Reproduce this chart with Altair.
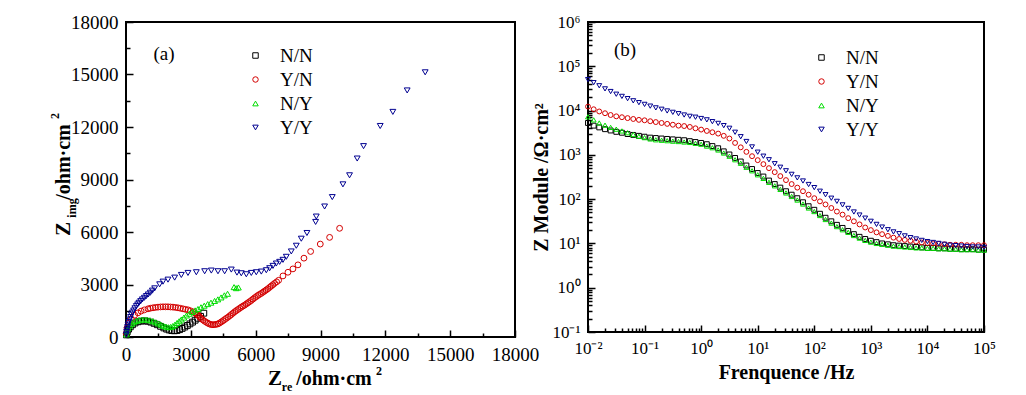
import altair as alt
import pandas as pd

FONT = "Liberation Serif"
SERIES = ["N/N", "Y/N", "N/Y", "Y/Y"]
COLORS = ["#000000", "#D40000", "#00DD00", "#000090"]
SHAPES = ["square", "circle", "triangle-up", "triangle-down"]

# ---------------- (a) Nyquist data: Z_re, Z_img (ohm*cm2) ----------------
nn_zre = [20, 60, 120, 200, 300, 420, 560, 700, 850, 1000, 1150, 1300, 1450, 1600, 1750, 1880,
          2000, 2120, 2240, 2360, 2480, 2600, 2720, 2840, 2960, 3080, 3200, 3320, 3450, 3600]
nn_zimg = [120, 300, 450, 580, 700, 800, 870, 910, 920, 900, 850, 780, 700, 610, 520, 450,
           400, 365, 355, 370, 420, 490, 570, 660, 750, 850, 960, 1070, 1180, 1360]

yn_zre = [10, 46, 139, 247, 401, 555, 700, 850, 1018, 1130, 1249, 1360, 1480, 1600, 1712, 1830,
          1943, 2060, 2174, 2290, 2406, 2520, 2637, 2750, 2868, 2980, 3099, 3180, 3254, 3320,
          3377, 3430, 3485, 3560, 3639, 3720, 3793, 3870, 3948, 4025, 4102, 4180, 4256, 4330,
          4410, 4490, 4564, 4640, 4719, 4800, 4873, 4950, 5027, 5100, 5181, 5260, 5335, 5410,
          5490, 5570, 5644, 5720, 5798, 5875, 5952, 6030, 6106, 6180, 6261, 6340, 6415, 6490,
          6569, 6650, 6723, 6800, 6877, 6970, 7062, 7263, 7494, 7725, 7957, 8234, 8543, 8990,
          9422, 9884]
yn_zimg = [200, 518, 805, 1035, 1246, 1380, 1480, 1550, 1610, 1645, 1668, 1690, 1706, 1718, 1725, 1725,
           1725, 1715, 1706, 1690, 1668, 1640, 1610, 1580, 1553, 1500, 1438, 1380, 1323, 1255,
           1189, 1120, 1054, 975, 901, 840, 786, 740, 709, 700, 709, 725, 748, 800,
           863, 930, 997, 1065, 1131, 1210, 1284, 1360, 1438, 1505, 1572, 1640, 1706, 1765,
           1821, 1890, 1955, 2020, 2090, 2165, 2243, 2310, 2377, 2435, 2492, 2560, 2626, 2690,
           2760, 2840, 2914, 2990, 3067, 3150, 3240, 3489, 3700, 3892, 4122, 4505, 4888, 5310,
           5693, 6211]

ny_zre = [20, 50, 100, 170, 250, 350, 470, 600, 730, 860, 990, 1120, 1250, 1380, 1500, 1620,
          1740, 1850, 1960, 2060, 2160, 2260, 2360, 2460, 2560, 2680, 2800, 2930, 3060, 3200,
          3330, 3470, 3620, 3780, 3932, 4100, 4250, 4400, 4550, 4700, 5000, 5100, 5200]
ny_zimg = [150, 330, 500, 640, 750, 840, 910, 960, 990, 1000, 985, 950, 900, 840, 775, 705,
           640, 590, 560, 570, 620, 700, 800, 900, 1000, 1110, 1230, 1330, 1430, 1520,
           1600, 1700, 1790, 1880, 1962, 2060, 2150, 2260, 2380, 2470, 2850, 2790, 2830]

yy_zre = [15, 30, 46, 70, 93, 130, 170, 210, 247, 300, 355, 410, 478, 540, 601, 680,
          756, 850, 941, 1030, 1126, 1220, 1326, 1557, 1712, 1943, 2251, 2560, 2868, 3254,
          3639, 3948, 4256, 4564, 4873, 5135, 5335, 5567, 5798, 6029, 6261, 6492, 6646, 6800,
          6954, 7109, 7263, 7417, 7648, 7880, 8111, 8373, 8774, 8805, 9190, 9545, 10038, 10344,
          10699, 10992, 11763, 12348, 13011, 13844]
yy_zimg = [134, 280, 422, 560, 709, 850, 997, 1140, 1284, 1400, 1514, 1640, 1764, 1860, 1955, 2050,
           2147, 2240, 2339, 2430, 2530, 2650, 2780, 3010, 3163, 3278, 3393, 3546, 3661, 3700,
           3757, 3796, 3757, 3757, 3853, 3680, 3642, 3585, 3661, 3700, 3738, 3815, 3930, 4064,
           4198, 4294, 4409, 4582, 4888, 5214, 5617, 5943, 6575, 6882, 7457, 7994, 8722, 9240,
           10198, 10907, 12058, 12863, 14089, 15125]

# ---------------- (b) Bode data: frequency (Hz), |Z| (ohm*cm2) ----------------
freq = [0.01, 0.0126, 0.0158, 0.02, 0.0251, 0.0316, 0.0398, 0.0501, 0.0631, 0.0794,
        0.1, 0.126, 0.158, 0.2, 0.251, 0.316, 0.398, 0.501, 0.631, 0.794,
        1, 1.26, 1.58, 2, 2.51, 3.16, 3.98, 5.01, 6.31, 7.94,
        10, 12.6, 15.8, 20, 25.1, 31.6, 39.8, 50.1, 63.1, 79.4,
        100, 126, 158, 200, 251, 316, 398, 501, 631, 794,
        1000, 1260, 1580, 2000, 2510, 3160, 3980, 5010, 6310, 7940,
        10000, 12600, 15800, 20000, 25100, 31600, 39800, 50100, 63100, 79400,
        100000]
nn_mod = [5250, 4570, 4170, 3800, 3550, 3310, 3160, 2950, 2820, 2690,
          2570, 2450, 2400, 2340, 2290, 2240, 2190, 2140, 2040, 1950,
          1860, 1740, 1580, 1410, 1200, 1020, 851, 708, 575, 479,
          389, 324, 263, 219, 182, 151, 126, 105, 85.1, 69.2,
          57.5, 46.8, 38.0, 31.6, 26.3, 22.4, 19.1, 16.2, 14.1, 12.6,
          11.5, 10.7, 10.0, 9.55, 9.12, 8.91, 8.71, 8.51, 8.32, 8.13,
          7.94, 7.94, 7.76, 7.76, 7.59, 7.59, 7.41, 7.41, 7.41, 7.24,
          7.24]
yn_mod = [12300, 10700, 9550, 8710, 7940, 7410, 7080, 6760, 6460, 6170,
          6030, 5750, 5500, 5250, 5010, 4790, 4570, 4470, 4270, 3980,
          3720, 3470, 3240, 3020, 2690, 2340, 1860, 1480, 1170, 933,
          759, 617, 501, 407, 331, 269, 219, 182, 151, 126,
          105, 89.1, 75.9, 63.1, 52.5, 44.7, 37.2, 31.6, 26.9, 22.9,
          20.0, 17.8, 16.2, 14.8, 13.5, 12.6, 12.0, 11.5, 11.0, 10.5,
          10.2, 10.0, 9.77, 9.55, 9.33, 9.33, 9.33, 9.12, 9.12, 9.12,
          9.12]
ny_mod = [7240, 6170, 5250, 4680, 4170, 3800, 3470, 3160, 2880, 2630,
          2450, 2290, 2190, 2140, 2090, 2040, 2000, 1950, 1910, 1820,
          1740, 1580, 1450, 1290, 1100, 933, 776, 646, 525, 437,
          355, 295, 240, 200, 166, 138, 115, 95.5, 77.6, 63.1,
          52.5, 42.7, 34.7, 28.8, 24.0, 20.4, 17.8, 15.1, 13.2, 11.7,
          10.7, 10.0, 9.55, 9.12, 8.71, 8.51, 8.32, 8.13, 7.94, 7.94,
          7.76, 7.76, 7.59, 7.59, 7.41, 7.41, 7.24, 7.24, 7.24, 7.08,
          7.08]
yy_mod = [50100, 42700, 36300, 30900, 26900, 23400, 20900, 18600, 16600, 15100,
          13800, 12600, 11500, 10700, 9800, 9120, 8510, 7940, 7410, 7080,
          6610, 6170, 5620, 5130, 4570, 3980, 3240, 2570, 2000, 1510,
          1150, 933, 776, 631, 525, 437, 363, 302, 257, 214,
          182, 151, 126, 105, 89.1, 74.1, 61.7, 51.3, 43.7, 37.2,
          31.6, 26.9, 23.4, 20.4, 18.2, 16.6, 14.8, 13.5, 12.6, 11.7,
          11.0, 10.5, 10.0, 9.55, 9.12, 8.91, 8.71, 8.51, 8.32, 8.32,
          8.13]

# ---------------- tables ----------------
rows_a = []
for name, xs, ys in zip(SERIES, [nn_zre, yn_zre, ny_zre, yy_zre], [nn_zimg, yn_zimg, ny_zimg, yy_zimg]):
    for x, y in zip(xs, ys):
        rows_a.append({"series": name, "zre": x, "zimg": y})
df_a = pd.DataFrame(rows_a)

rows_b = []
for name, ms in zip(SERIES, [nn_mod, yn_mod, ny_mod, yy_mod]):
    for f, m in zip(freq, ms):
        rows_b.append({"series": name, "freq": f, "mod": m})
df_b = pd.DataFrame(rows_b)


def legend(x, y):
    return alt.Legend(title=None, orient="none", legendX=x, legendY=y, labelFont=FONT,
                      labelFontSize=19, labelColor="black", symbolSize=30, symbolStrokeWidth=1,
                      labelOffset=15, rowPadding=4, padding=0)


def text(t, x, y, size, bold=True, angle=0, align="center", baseline="alphabetic"):
    kw = dict(text=t, font=FONT, fontSize=size, fontWeight="bold" if bold else "normal",
              color="black", align=align, baseline=baseline)
    if angle:
        kw["angle"] = angle
    return alt.Chart(pd.DataFrame({"k": [0]})).mark_text(**kw).encode(x=alt.value(x), y=alt.value(y))


lin_ticks = list(range(0, 18001, 1500))
lin_label = "datum.value % 3000 === 0 ? format(datum.value, 'd') : ''"
lin_size = {"expr": "datum.value % 3000 === 0 ? -7 : -4"}


def lin_axis():
    return alt.Axis(values=lin_ticks, labelExpr=lin_label, tickSize=lin_size, domain=False,
                    grid=False, title=None, labelFont=FONT, labelFontSize=19, labelColor="black",
                    tickColor="black", tickWidth=1.5, labelPadding=15, labelFlush=False,
                    labelOverlap=False)


color_scale = alt.Scale(domain=SERIES, range=COLORS)
shape_scale = alt.Scale(domain=SERIES, range=SHAPES)

pts_a = alt.Chart(df_a).mark_point(filled=False, size=34, strokeWidth=1, opacity=1).encode(
    x=alt.X("zre:Q", scale=alt.Scale(domain=[0, 18000], nice=False, zero=False), axis=lin_axis()),
    y=alt.Y("zimg:Q", scale=alt.Scale(domain=[0, 18000], nice=False, zero=False), axis=lin_axis()),
    color=alt.Color("series:N", scale=color_scale, legend=legend(120, 24)),
    shape=alt.Shape("series:N", scale=shape_scale, legend=legend(120, 24)),
)

left = alt.layer(
    pts_a,
    text("(a)", 38, 38, 19, bold=False),
    # x title: Z_re /ohm·cm²
    text("Z", 149, 363, 21),
    text("re", 161, 369, 12),
    text("/ohm·cm", 208, 363, 20),
    text("2", 253, 353, 12),
    # y title: Z_img /ohm·cm²
    text("Z", -56, 207, 21, angle=270),
    text("img", -50, 186, 12, angle=270),
    text("/ohm·cm", -56, 140, 20, angle=270),
    text("2", -67, 94, 12, angle=270),
).properties(width=389, height=315)


def log_vals(lo, hi):
    v = []
    for e in range(lo, hi):
        for m in range(1, 10):
            v.append(round(m * 10.0 ** e, 12))
    v.append(10.0 ** hi)
    return v


is_dec = "abs(log(datum.value)/LN10 - round(log(datum.value)/LN10)) < 0.001"
sup = "'' + round(log(datum.value)/LN10)"
for a, b in [("-", "⁻"), ("0", "⁰"), ("1", "¹"), ("2", "²"), ("3", "³"), ("4", "⁴"),
             ("5", "⁵"), ("6", "⁶")]:
    sup = "replace(" + sup + ", '" + a + "', '" + b + "')"
log_label = is_dec + " ? '10' + " + sup + " : ''"
log_size = {"expr": is_dec + " ? -7 : -4"}


def log_axis(vals, title, tpad):
    return alt.Axis(values=vals, labelExpr=log_label, tickSize=log_size, domain=False, grid=False,
                    title=title, titleFont=FONT, titleFontSize=20, titleFontWeight="bold",
                    titleColor="black", titlePadding=tpad, labelFont=FONT, labelFontSize=17,
                    labelColor="black", tickColor="black", tickWidth=1.5, labelPadding=15,
                    labelFlush=False, labelOverlap=False)


pts_b = alt.Chart(df_b).mark_point(filled=False, size=24, strokeWidth=1, opacity=1).encode(
    x=alt.X("freq:Q", scale=alt.Scale(type="log", domain=[0.01, 100000], nice=False),
            axis=log_axis(log_vals(-2, 5), "Frenquence /Hz", 3)),
    y=alt.Y("mod:Q", scale=alt.Scale(type="log", domain=[0.1, 1000000], nice=False),
            axis=log_axis(log_vals(-1, 6), "Z Module /Ω·cm²", 0)),
    color=alt.Color("series:N", scale=color_scale, legend=legend(224, 26)),
    shape=alt.Shape("series:N", scale=shape_scale, legend=legend(224, 26)),
)

right = alt.layer(
    pts_b,
    text("(b)", 37, 34, 19, bold=False),
).properties(width=396, height=310)

chart = alt.hconcat(left, right, spacing=73, bounds="flush").resolve_scale(
    color="independent", shape="independent"
).properties(
    padding={"left": 40, "top": 4, "right": 5, "bottom": 0},
    background="white",
).configure_view(stroke="black", strokeWidth=2)

chart.save("out.html", embed_options={"renderer": "svg", "actions": False})
